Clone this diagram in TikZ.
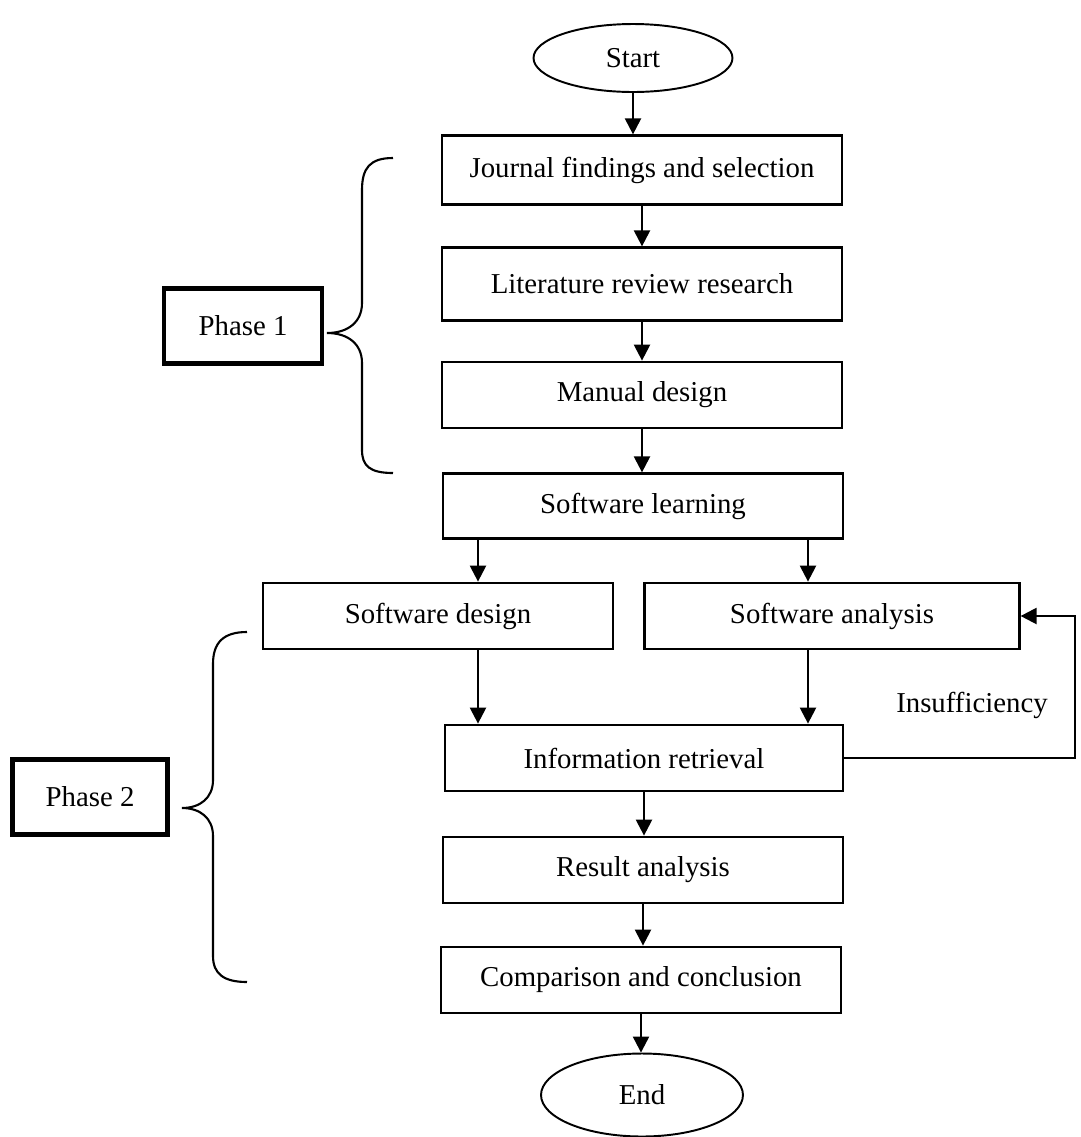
\documentclass[tikz,border=0pt]{standalone}
\usepackage{fontspec}
\setmainfont{Liberation Serif}
\usepackage{tikz}
\usetikzlibrary{calc,arrows.meta,shapes.geometric}

\begin{document}
\begin{tikzpicture}[
x=0.02cm, y=-0.02cm,
font=\fontsize{16.4}{19}\selectfont,
process/.style={
	draw, rectangle, line width=1.3pt,
	minimum width=8cm, minimum height=1.33cm,
	inner sep=2pt, text=black
},
terminal/.style={
	draw, ellipse, line width=1.1pt, inner sep=0pt
},
phase/.style={
	draw, rectangle, line width=2.6pt,
	minimum height=1.5cm, inner sep=2pt
},
arrow/.style={line width=1.3pt, -{Triangle[length=0.32cm,width=0.32cm]}},
brace/.style={line width=1.2pt}
]
\useasboundingbox (0,0) rectangle (1080,1137);

\node[terminal, minimum width=3.98cm, minimum height=1.36cm] (start) at (633,58) {Start};
\node[process, minimum height=1.38cm] (journal) at (642,170) {Journal findings and selection};
\node[process, minimum height=1.46cm] (lit) at (642,284) {Literature review research};
\node[process] (manual) at (642,395) {Manual design};
\node[process, minimum height=1.3cm] (swl) at (643,506) {Software learning};
\node[process, minimum width=7cm] (swd) at (438,616) {Software design};
\node[process, minimum width=7.5cm] (swa) at (832,616) {Software analysis};
\node[process, minimum width=7.96cm] (info) at (644,758) {Information retrieval};
\node[process] (result) at (643,870) {Result analysis};
\node[process] (comp) at (641,980) {Comparison and conclusion};
\node[terminal, minimum width=4.04cm, minimum height=1.66cm] (end) at (642,1095) {End};

\node[phase, minimum width=3.16cm] (p1) at (243,326) {Phase 1};
\node[phase, minimum width=3.1cm] (p2) at (90,797) {Phase 2};

\node (insuf) at (972,705) {Insufficiency};

\coordinate (ldrop) at (478,0);
\coordinate (rdrop) at (808,0);
\coordinate (loop) at (1075,758);

\foreach \a/\b in {start/journal,journal/lit,lit/manual,manual/swl,info/result,result/comp,comp/end}
{
	\draw[arrow] (\a.south) -- (\a.south |- \b.north);
}
\draw[arrow] (swl.south -| ldrop) -- (swd.north -| ldrop);
\draw[arrow] (swl.south -| rdrop) -- (swa.north -| rdrop);
\draw[arrow] (swd.south -| ldrop) -- (info.north -| ldrop);
\draw[arrow] (swa.south -| rdrop) -- (info.north -| rdrop);
\draw[arrow] (info.east) -- (loop) |- (swa.east);

% braces
\draw[brace] (393,158) .. controls (370,158) and (362,168) .. (362,190)
	-- (362,303) .. controls (362,322) and (348,333) .. (327,333)
	.. controls (348,333) and (362,344) .. (362,363)
	-- (362,450) .. controls (362,466) and (370,473) .. (393,473);
\draw[brace] (247,632) .. controls (224,632) and (213,642) .. (213,664)
	-- (213,780) .. controls (213,798) and (200,808) .. (182,808)
	.. controls (200,808) and (213,818) .. (213,836)
	-- (213,956) .. controls (213,974) and (224,982) .. (247,982);
\end{tikzpicture}
\end{document}
